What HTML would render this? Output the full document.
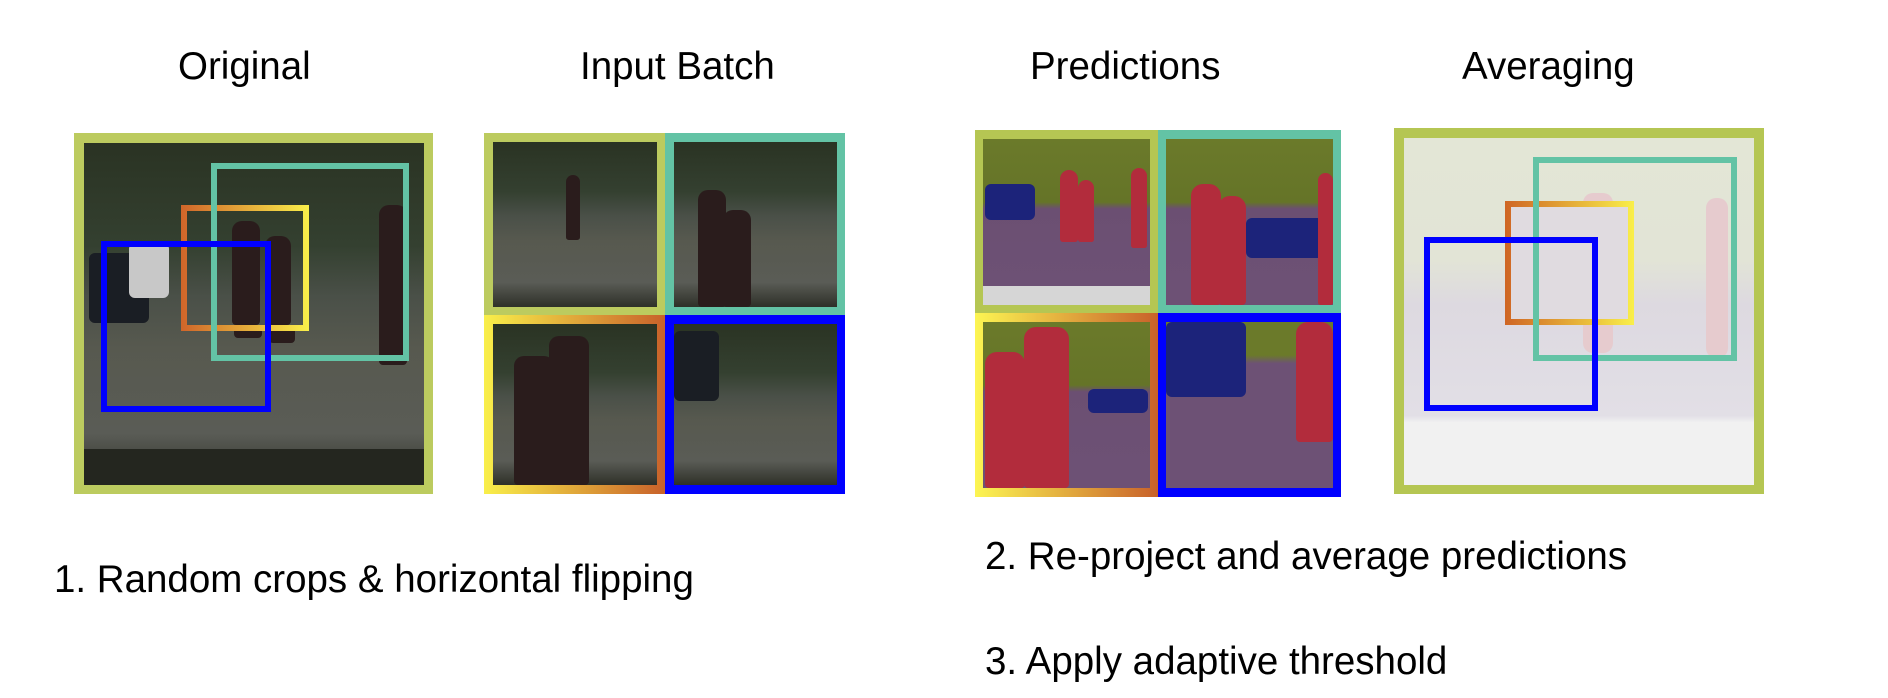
<!DOCTYPE html>
<html><head><meta charset="utf-8"><style>
body{margin:0;background:#fff;width:1888px;height:698px;position:relative;overflow:hidden;font-family:"Liberation Sans",Arial,sans-serif;color:#000}
.a{position:absolute;box-sizing:border-box}
.t{position:absolute;white-space:nowrap;font-size:38.5px;line-height:1}
.b{font-size:38.5px}
.photo{background:linear-gradient(180deg,#2a3323 0%,#344030 30%,#4a5048 45%,#57594f 60%,#5a5c56 85%,#2e3028 100%)}
.pred{background:linear-gradient(180deg,#6b7a2a 0%,#657428 38%,#6b4f72 42%,#6d5175 85%,#6d5175 100%)}
.car{position:absolute;background:#1a1e24;border-radius:6px}
.pcar{position:absolute;background:#1c237a;border-radius:6px}
.per{position:absolute;background:#2a1c1c;border-radius:10px 10px 4px 4px}
.pper{position:absolute;background:#b22c3c;border-radius:12px 12px 4px 4px}
.box{position:absolute;box-sizing:border-box;border:6px solid}
</style></head><body>

<div class="t" style="left:178px;top:48px">Original</div>
<div class="t" style="left:580px;top:48px">Input Batch</div>
<div class="t" style="left:1030px;top:48px">Predictions</div>
<div class="t" style="left:1462px;top:48px">Averaging</div>

<!-- Original -->
<div class="a" style="left:74px;top:133px;width:359px;height:361px;background:#bccb5f"></div>
<div class="a photo" style="left:84px;top:143px;width:340px;height:342px;overflow:hidden">
  <div class="car" style="left:5px;top:110px;width:60px;height:70px"></div>
  <div class="car" style="left:45px;top:100px;width:40px;height:55px;background:#c8c8c8"></div>
  <div class="per" style="left:150px;top:75px;width:28px;height:120px"></div>
  <div class="per" style="left:185px;top:90px;width:26px;height:110px"></div>
  <div class="per" style="left:295px;top:62px;width:28px;height:160px"></div>
  <div class="a" style="left:0;top:306px;width:340px;height:36px;background:#24261f"></div>
</div>
<div class="box" style="left:211px;top:163px;width:198px;height:198px;border-color:#63c3a5"></div>
<div class="a" style="left:181px;top:205px;width:128px;height:126px;background:linear-gradient(90deg,#d0652a,#f9ef4a)"></div>
<div class="a" style="left:187px;top:211px;width:116px;height:114px;overflow:hidden"><div class="photo" style="position:absolute;left:-103px;top:-68px;width:340px;height:342px"></div><div class="per" style="left:45px;top:10px;width:28px;height:104px"></div><div class="per" style="left:78px;top:25px;width:26px;height:89px"></div></div>
<div class="box" style="left:211px;top:205px;width:6px;height:126px;border:none;background:#63c3a5"></div>
<div class="box" style="left:101px;top:241px;width:170px;height:171px;border-color:#0000ff"></div>

<!-- Input batch -->
<div class="a" style="left:484px;top:133px;width:181px;height:182px;background:#bccb5f"></div>
<div class="a photo" style="left:493px;top:142px;width:164px;height:165px"></div>
<div class="a" style="left:665px;top:133px;width:180px;height:182px;background:#63c3a5"></div>
<div class="a photo" style="left:674px;top:142px;width:163px;height:165px"></div>
<div class="a" style="left:484px;top:315px;width:181px;height:179px;background:linear-gradient(90deg,#f9ef4a,#c8612a)"></div>
<div class="a photo" style="left:493px;top:324px;width:164px;height:161px"></div>
<div class="a" style="left:665px;top:315px;width:180px;height:179px;background:#0000ff"></div>
<div class="a photo" style="left:674px;top:324px;width:163px;height:161px"></div>
<div class="per" style="left:566px;top:175px;width:14px;height:65px"></div>
<div class="per" style="left:698px;top:190px;width:28px;height:117px"></div>
<div class="per" style="left:723px;top:210px;width:28px;height:97px"></div>
<div class="per" style="left:514px;top:356px;width:40px;height:129px"></div>
<div class="per" style="left:549px;top:336px;width:40px;height:149px"></div>
<div class="car" style="left:674px;top:331px;width:45px;height:70px"></div>

<div class="t b" style="left:54px;top:561px">1. Random crops &amp; horizontal flipping</div>

<!-- Predictions -->
<div class="a" style="left:975px;top:130px;width:183px;height:183px;background:#b5c653"></div>
<div class="a pred" style="left:983px;top:139px;width:167px;height:166px"></div>
<div class="a" style="left:983px;top:286px;width:167px;height:19px;background:#d6d6d6"></div>
<div class="a" style="left:1158px;top:130px;width:183px;height:183px;background:#63c3a5"></div>
<div class="a pred" style="left:1166px;top:139px;width:167px;height:166px"></div>
<div class="a" style="left:975px;top:313px;width:183px;height:184px;background:linear-gradient(90deg,#fcf552,#c8612a)"></div>
<div class="a pred" style="left:983px;top:322px;width:167px;height:166px"></div>
<div class="a" style="left:1158px;top:313px;width:183px;height:184px;background:#0000ff"></div>
<div class="a pred" style="left:1166px;top:322px;width:167px;height:166px;background:linear-gradient(180deg,#6b7a2a 0%,#6b7a2a 20%,#6d5175 25%,#6d5175 100%)"></div>
<div class="pcar" style="left:985px;top:184px;width:50px;height:36px"></div>
<div class="pper" style="left:1060px;top:170px;width:18px;height:72px"></div>
<div class="pper" style="left:1078px;top:180px;width:16px;height:62px"></div>
<div class="pper" style="left:1131px;top:168px;width:16px;height:80px"></div>
<div class="pcar" style="left:1246px;top:218px;width:80px;height:40px"></div>
<div class="pper" style="left:1191px;top:184px;width:30px;height:121px"></div>
<div class="pper" style="left:1218px;top:196px;width:28px;height:109px"></div>
<div class="pper" style="left:1318px;top:173px;width:15px;height:132px"></div>
<div class="pper" style="left:985px;top:352px;width:40px;height:136px"></div>
<div class="pper" style="left:1024px;top:327px;width:45px;height:161px"></div>
<div class="pcar" style="left:1088px;top:389px;width:60px;height:24px"></div>
<div class="pcar" style="left:1166px;top:322px;width:80px;height:75px"></div>
<div class="pper" style="left:1296px;top:322px;width:37px;height:120px"></div>

<!-- Averaging -->
<div class="a" style="left:1394px;top:128px;width:370px;height:366px;background:#b5c653"></div>
<div class="a" style="left:1404px;top:138px;width:350px;height:347px;background:linear-gradient(180deg,#e3e6d6 0%,#e2e4d6 35%,#ddd9e0 48%,#e2dfe6 80%,#f1f1f1 82%,#f1f1f1 100%)"></div>
<div class="a" style="left:1583px;top:193px;width:30px;height:160px;background:#e6cbce;border-radius:10px"></div>
<div class="a" style="left:1706px;top:198px;width:22px;height:160px;background:#e6cbce;border-radius:10px"></div>
<div class="box" style="left:1533px;top:157px;width:204px;height:204px;border-color:#63c3a5"></div>
<div class="a" style="left:1505px;top:201px;width:129px;height:124px;background:linear-gradient(90deg,#cf6524,#f9ef4a)"></div>
<div class="a" style="left:1511px;top:207px;width:117px;height:112px;background:#e0dbe0"></div>
<div class="box" style="left:1533px;top:201px;width:6px;height:124px;border:none;background:#63c3a5"></div>
<div class="box" style="left:1424px;top:237px;width:174px;height:174px;border-color:#0000ff"></div>

<div class="t b" style="left:985px;top:538px">2. Re-project and average predictions</div>
<div class="t b" style="left:985px;top:643px">3. Apply adaptive threshold</div>
</body></html>
